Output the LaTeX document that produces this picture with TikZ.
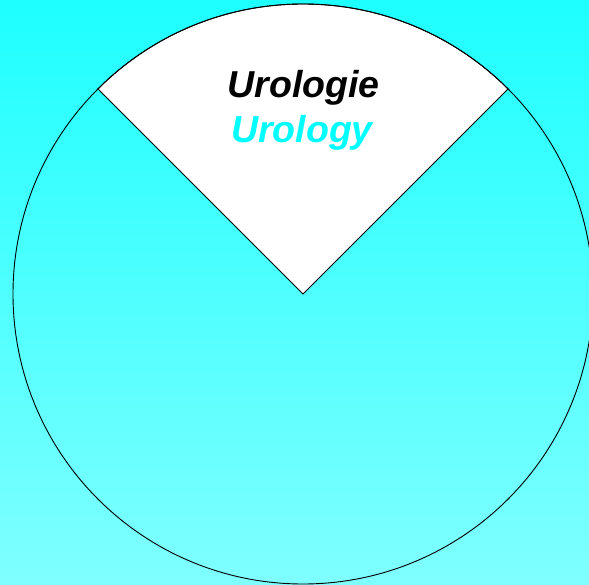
\documentclass[tikz,border=0pt]{standalone}
\usepackage{fontspec}
\setmainfont{Liberation Sans}
\definecolor{topc}{RGB}{30,255,255}
\definecolor{botc}{RGB}{128,255,255}
\definecolor{txtc}{RGB}{0,255,255}
\begin{document}
\begin{tikzpicture}[x=1pt,y=-1pt,
  lbl/.style={font=\bfseries\itshape\fontsize{37.5}{44}\selectfont, anchor=base, inner sep=0pt}]
\useasboundingbox (0,0) rectangle (589,585);
\shade[top color=topc, bottom color=botc] (0,0) rectangle (589,585);
\coordinate (c) at (303,294);
\draw[fill=white, line width=0.9pt, line join=miter] (c) -- ++(-135:290) arc[start angle=-135, end angle=-45, radius=290] -- cycle;
\draw[line width=0.9pt] (c) circle[radius=290];
\node[lbl, text=black] (de) at (303.5,98) {Urologie};
\node[lbl, text=txtc] (en) at (302,143) {Urology};
\end{tikzpicture}
\end{document}
